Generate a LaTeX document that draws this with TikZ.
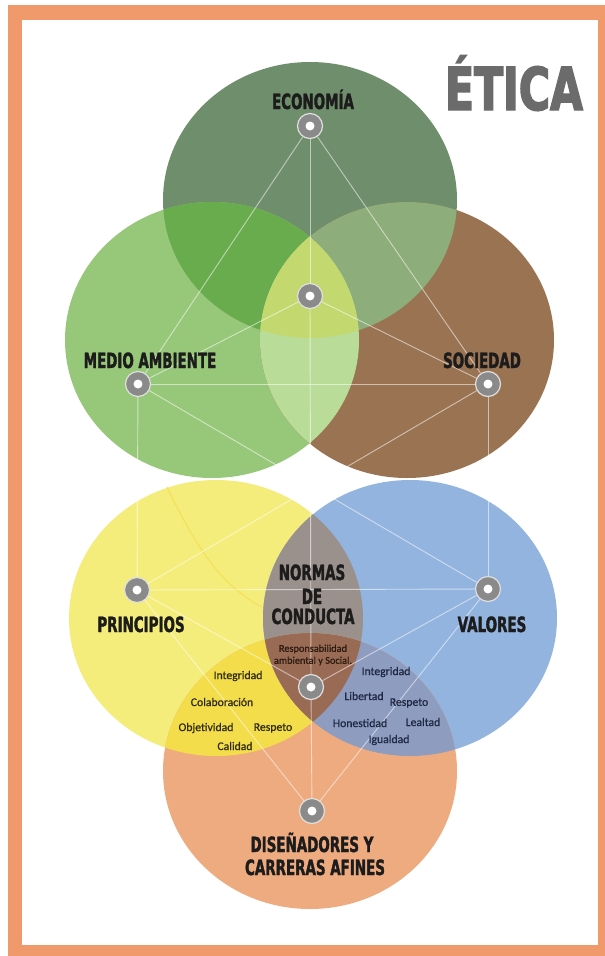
\documentclass[tikz,border=0pt]{standalone}
\usepackage{fontspec}
\setmainfont{Carlito}
\newfontfamily\smallfont[FakeBold=0.6]{Carlito}
\newfontfamily\labfont[FakeStretch=0.64,FakeBold=1.6]{DejaVu Sans}
\newfontfamily\titfont[FakeStretch=0.72,FakeBold=2.5]{DejaVu Sans}
\definecolor{frameC}{HTML}{F0996B}
\definecolor{cE}{HTML}{6F8E6B}
\definecolor{cM}{HTML}{97C879}
\definecolor{cS}{HTML}{9A7452}
\definecolor{cEM}{HTML}{69AC4D}
\definecolor{cES}{HTML}{8DAD7A}
\definecolor{cMS}{HTML}{B9DD98}
\definecolor{cEMS}{HTML}{C3D96F}
\definecolor{cP}{HTML}{F4ED7B}
\definecolor{cV}{HTML}{92B4DF}
\definecolor{cD}{HTML}{EFAB80}
\definecolor{cPV}{HTML}{9B918C}
\definecolor{cPD}{HTML}{F3DD4A}
\definecolor{cVD}{HTML}{8E9CBF}
\definecolor{cPVD}{HTML}{9A6B54}
\definecolor{hubC}{HTML}{8A8A8A}
\definecolor{titC}{HTML}{6B6B6B}
\definecolor{labC}{HTML}{1C1C1C}
\definecolor{yelT}{HTML}{2E2A14}
\definecolor{bluT}{HTML}{1E2842}
\definecolor{brnT}{HTML}{2A1A10}
\tikzset{
  hub/.style={circle, minimum size=25pt, inner sep=0pt, fill=hubC,
    draw=white!75!gray, line width=1.2pt,
    path picture={\fill[white] (path picture bounding box.center) circle (4.5pt);}},
  conn/.style={draw=white, draw opacity=0.55, line width=0.9pt},
  biglab/.style={anchor=base, text=labC, font=\labfont\bfseries\fontsize{21}{21}\selectfont},
  smallY/.style={text=yelT, font=\smallfont\fontsize{11.7}{12}\selectfont, inner sep=0pt},
  smallB/.style={text=bluT, font=\smallfont\fontsize{11.7}{12}\selectfont, inner sep=0pt}
}
\begin{document}
\begin{tikzpicture}[x=1pt,y=-1pt]
\useasboundingbox (0,0) rectangle (605,956);
% frame
\fill[frameC] (8,5) rectangle (605,956);
\fill[white] (22,20) rectangle (598,945);
% upper circles
\fill[cE] (310,200) ellipse [x radius=147pt, y radius=138pt];
\fill[cM] (212,340) ellipse [x radius=147pt, y radius=138pt];
\fill[cS] (407,340) ellipse [x radius=147pt, y radius=138pt];
\begin{scope}
  \clip (310,200) ellipse [x radius=147pt, y radius=138pt];
  \fill[cEM] (212,340) ellipse [x radius=147pt, y radius=138pt];
  \fill[cES] (407,340) ellipse [x radius=147pt, y radius=138pt];
\end{scope}
\begin{scope}
  \clip (212,340) ellipse [x radius=147pt, y radius=138pt];
  \fill[cMS] (407,340) ellipse [x radius=147pt, y radius=138pt];
\end{scope}
\begin{scope}
  \clip (310,200) ellipse [x radius=147pt, y radius=138pt];
  \clip (212,340) ellipse [x radius=147pt, y radius=138pt];
  \fill[cEMS] (407,340) ellipse [x radius=147pt, y radius=138pt];
\end{scope}
% lower circles
\fill[cP] (216,618) ellipse [x radius=147pt, y radius=138pt];
\fill[cV] (410,618) ellipse [x radius=147pt, y radius=138pt];
\fill[cD] (310,771) ellipse [x radius=147pt, y radius=138pt];
\begin{scope}
  \clip (216,618) ellipse [x radius=147pt, y radius=138pt];
  \fill[cPV] (410,618) ellipse [x radius=147pt, y radius=138pt];
  \fill[cPD] (310,771) ellipse [x radius=147pt, y radius=138pt];
\end{scope}
\begin{scope}
  \clip (410,618) ellipse [x radius=147pt, y radius=138pt];
  \fill[cVD] (310,771) ellipse [x radius=147pt, y radius=138pt];
\end{scope}
\begin{scope}
  \clip (216,618) ellipse [x radius=147pt, y radius=138pt];
  \clip (410,618) ellipse [x radius=147pt, y radius=138pt];
  \fill[cPVD] (310,771) ellipse [x radius=147pt, y radius=138pt];
\end{scope}
% faint arc in the yellow circle
\draw[draw=cPD, line width=1pt, draw opacity=0.8] (167,487) .. controls (195,545) and (220,585) .. (262,607);
% hubs
\node[hub] (econ) at (310,126) {};
\node[hub] (cup) at (310,296) {};
\node[hub] (medio) at (138,384) {};
\node[hub] (soc) at (488,384) {};
\node[hub] (prin) at (137,590) {};
\node[hub] (val) at (488,589) {};
\node[hub] (clow) at (311,687) {};
\node[hub] (dis) at (312,811) {};
% connectors
\draw[conn] (econ) -- (medio);
\draw[conn] (econ) -- (soc);
\draw[conn] (econ) -- (cup);
\draw[conn] (cup) -- (medio);
\draw[conn] (cup) -- (soc);
\draw[conn] (medio) -- (soc);
\draw[conn] (medio) -- (prin);
\draw[conn] (soc) -- (val);
\draw[conn] (medio) -- (val);
\draw[conn] (soc) -- (prin);
\draw[conn] (cup) -- (clow);
\draw[conn] (prin) -- (val);
\draw[conn] (prin) -- (clow);
\draw[conn] (val) -- (clow);
\draw[conn] (prin) -- (dis);
\draw[conn] (val) -- (dis);
\draw[conn] (clow) -- (dis);
% title
\node[anchor=base, text=titC, font=\titfont\bfseries\fontsize{59}{59}\selectfont] (title) at (514,110) {ÉTICA};
% big labels
\node[biglab] (lEcon) at (313,109) {ECONOMÍA};
\node[biglab] (lMedio) at (150,368) {MEDIO AMBIENTE};
\node[biglab] (lSoc) at (482,368) {SOCIEDAD};
\node[biglab] (lPrin) at (141,632) {PRINCIPIOS};
\node[biglab] (lVal) at (492,632) {VALORES};
\node[biglab] (lN1) at (312,580) {NORMAS};
\node[biglab] (lN2) at (312,604) {DE};
\node[biglab] (lN3) at (313,624) {CONDUCTA};
\node[biglab] (lD1) at (312,852) {DISEÑADORES Y};
\node[biglab] (lD2) at (315,875) {CARRERAS AFINES};
% small texts
\node[text=brnT, font=\smallfont\fontsize{10.3}{12}\selectfont, align=center, inner sep=0pt] (resp) at (313,655) {Responsabilidad\\ambiental y Social.};
\node[smallY] (y1) at (238,676) {Integridad};
\node[smallY] (y2) at (222,702) {Colaboración};
\node[smallY] (y3) at (206,728) {Objetividad};
\node[smallY] (y4) at (273,728) {Respeto};
\node[smallY] (y5) at (235,746) {Calidad};
\node[smallB] (b1) at (386,672) {Integridad};
\node[smallB] (b2) at (364,696) {Libertad};
\node[smallB] (b3) at (409,703) {Respeto};
\node[smallB] (b4) at (360,723) {Honestidad};
\node[smallB] (b5) at (423,722) {Lealtad};
\node[smallB] (b6) at (389,740) {Igualdad};
\end{tikzpicture}
\end{document}
